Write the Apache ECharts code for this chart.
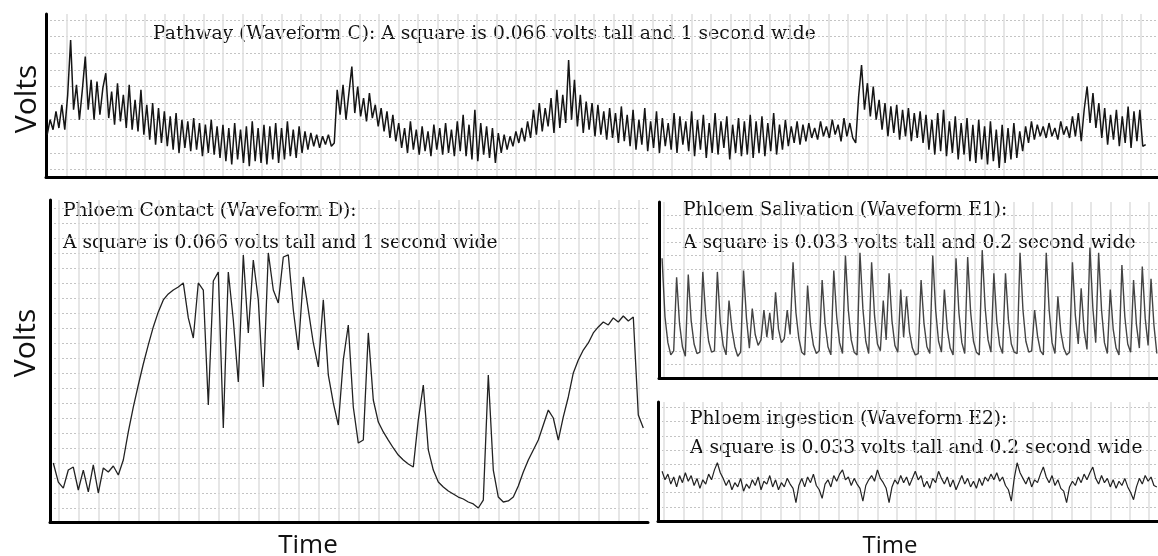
<!DOCTYPE html>
<html><head><meta charset="utf-8">
<script src="https://cdn.jsdelivr.net/npm/echarts@6/dist/echarts.min.js"></script>
<style>html,body{margin:0;padding:0;background:#fff}#c{width:1158px;height:556px}</style>
</head><body><div id="c"></div>
<script>
// ---- Pathway (Waveform C): time step in seconds, values in grid squares (0.066 V each)
const cStep = 0.15;
const waveC = [
3.1,4.0,3.4,4.5,3.5,4.9,3.4,5.5,8.8,4.6,6.1,4.0,5.8,7.8,4.6,6.4,4.0,6.3,4.3,5.9,
6.8,4.1,5.7,3.7,6.2,3.9,5.5,3.5,6.1,3.4,5.2,3.3,5.8,3.1,4.9,2.8,5.0,2.5,4.7,2.6,
4.5,2.4,4.2,2.2,4.4,2.0,4.0,2.3,3.9,2.1,4.1,2.2,3.8,1.8,3.7,2.0,4.0,1.9,3.6,1.7,
3.7,1.5,3.5,1.3,3.8,1.6,3.4,1.4,3.6,1.2,3.9,1.5,3.5,1.4,3.7,1.3,3.6,1.6,3.8,1.4,
3.5,1.6,3.9,1.8,3.4,1.7,3.6,2.0,3.3,2.2,3.2,2.4,3.1,2.3,3.0,2.5,3.1,2.4,2.6,5.8,
4.3,6.1,4.0,5.6,7.2,4.4,6.0,4.2,5.3,3.9,5.6,4.1,4.9,3.6,4.7,3.3,4.5,2.9,4.3,2.7,
3.8,2.3,3.5,2.0,3.9,2.2,3.4,1.9,3.6,2.1,3.3,1.8,3.7,2.2,3.5,1.9,3.8,2.0,3.4,1.8,
3.9,2.1,4.3,1.8,3.7,1.6,4.6,1.5,3.8,1.9,3.6,1.7,3.5,1.4,3.2,2.0,3.1,2.2,3.0,2.4,
3.3,2.6,3.5,2.7,3.9,2.9,4.6,3.1,5.0,3.3,4.7,3.6,5.3,3.2,5.8,3.5,5.5,3.8,7.6,4.0,
6.4,3.6,5.5,3.2,5.1,3.4,5.0,3.0,4.9,3.1,4.5,2.8,4.7,2.9,4.4,2.6,4.8,2.7,4.3,2.4,
4.6,2.2,4.0,2.5,4.7,2.1,3.9,2.3,4.5,2.0,4.1,2.4,3.8,2.2,4.4,2.0,4.2,2.5,3.9,2.1,
4.5,1.8,4.0,2.2,4.3,1.7,3.8,2.0,4.4,1.9,3.9,2.3,4.2,1.6,3.7,2.0,4.1,1.8,3.9,1.9,
4.3,1.7,3.9,2.0,4.2,1.8,3.8,2.1,4.4,1.9,3.7,2.2,4.0,2.4,3.6,2.6,3.9,2.5,3.7,2.7,
3.8,2.9,3.5,2.8,3.9,3.0,3.6,2.9,4.0,3.1,3.7,2.7,4.1,3.0,3.8,2.9,2.6,5.4,7.3,4.6,
6.2,4.2,6.0,4.0,5.2,3.4,5.0,3.0,4.8,3.2,4.9,2.8,4.6,3.0,4.7,2.7,4.4,2.9,4.5,2.6,
4.3,2.2,4.0,1.9,4.4,2.1,4.6,1.8,3.9,2.0,4.2,1.6,3.8,1.9,4.1,1.5,3.7,1.4,4.0,1.6,
3.6,1.3,3.9,1.5,3.4,1.1,3.7,1.4,3.5,1.6,3.8,1.7,3.3,2.1,3.6,2.6,3.9,2.8,3.7,3.0,
3.6,2.9,3.8,3.0,3.5,2.8,3.9,3.1,3.6,2.9,4.2,3.0,4.4,2.7,4.6,6.0,3.8,5.6,3.5,5.0,
2.9,4.7,2.5,4.3,2.8,4.6,2.4,4.2,2.6,4.8,2.3,4.5,2.7,4.6,2.4,2.5
];
// ---- Phloem contact (Waveform D): seconds, squares (0.066 V each)
const dStart = 0.75, dStep = 0.25;
const waveD = [
4.0,2.73,2.33,3.53,3.73,2.2,3.53,2.07,3.87,2.0,
3.67,3.4,3.8,3.2,4.2,6.07,7.73,9.2,10.6,11.87,
13.07,14.07,14.87,15.27,15.53,15.73,16.0,13.67,12.33,16.0,
15.53,7.87,16.13,16.73,6.33,16.73,13.53,9.4,17.87,12.67,
17.53,14.87,9.07,18.0,15.53,14.67,17.73,17.87,14.2,11.53,
16.4,14.2,12.0,10.4,14.87,9.87,8.0,6.53,10.87,13.2,
7.73,5.33,5.53,12.67,8.2,6.73,6.07,5.53,5.0,4.53,
4.2,3.93,3.73,6.87,9.2,4.87,3.53,2.73,2.4,2.13,
1.93,1.73,1.6,1.4,1.27,1.0,1.53,9.87,3.53,1.73,
1.4,1.47,1.73,2.47,3.4,4.2,4.87,5.53,6.53,7.53,
7.0,5.53,7.07,8.4,10.0,10.87,11.53,12.0,12.67,13.07,
13.4,13.2,13.67,13.4,13.8,13.47,13.73,7.2,6.33
];
// ---- Phloem salivation (E1) and ingestion (E2): grid squares (0.2 s, 0.033 V)
const eStart = 0.9, eStep = 0.15;
const waveE1 = [
8.8,4.5,2.6,1.7,2.0,7.4,4.0,2.3,1.6,7.6,
4.2,2.5,1.8,1.9,7.8,4.6,2.7,1.9,2.0,7.8,
4.1,2.4,1.7,5.7,3.6,2.3,1.6,1.9,7.9,4.4,
2.2,5.1,3.2,2.4,2.8,5.0,3.0,4.8,2.8,6.3,
3.6,2.6,2.9,5.0,3.2,8.5,4.8,2.9,1.9,1.7,
6.8,3.9,2.4,1.8,2.0,7.2,4.0,2.3,1.7,7.9,
4.5,2.6,1.8,9.0,5.0,2.8,1.9,1.7,9.2,5.1,
2.7,1.8,8.5,4.6,2.5,2.0,5.7,2.8,7.7,4.2,
2.4,1.9,6.5,3.0,6.0,3.4,2.2,1.7,1.8,7.2,
4.0,2.3,1.8,9.0,5.0,2.7,1.9,6.5,3.6,2.2,
1.7,8.8,4.8,2.6,1.8,8.9,4.9,2.7,1.9,1.7,
9.4,5.2,2.8,1.9,7.7,4.2,2.4,1.8,7.7,4.3,
2.5,1.9,1.8,9.2,5.0,2.7,1.9,2.0,5.0,3.1,
2.0,1.7,9.2,5.0,2.6,1.8,6.0,3.4,2.2,1.7,
1.9,8.5,4.6,2.5,6.6,3.5,2.1,9.6,5.2,2.6,
9.2,5.0,2.6,1.8,6.5,3.6,2.2,1.7,8.3,4.5,
2.5,1.9,7.2,3.9,2.2,8.2,4.4,2.4,7.3,3.9,
1.8
];
const waveE2 = [
3.5,2.9,3.3,2.6,3.1,2.4,3.2,2.7,3.4,2.8,
3.2,2.5,3.0,2.3,2.9,2.6,3.3,2.9,3.6,4.1,
3.4,3.0,2.5,2.9,2.2,2.7,2.4,3.0,2.1,2.6,
2.3,2.9,2.5,3.1,2.2,2.8,2.6,3.2,2.4,2.9,
2.2,2.7,2.4,3.0,2.6,2.3,1.3,2.5,3.0,2.4,
3.1,2.7,3.3,2.5,2.2,1.6,2.6,2.9,2.4,3.2,
2.8,3.3,3.6,2.9,3.1,2.5,3.0,2.6,2.3,1.4,
2.5,2.9,3.2,2.8,3.6,3.0,2.7,2.3,1.3,2.4,
2.9,2.6,3.2,2.7,3.1,2.5,3.0,3.5,2.9,3.2,
2.4,2.8,2.3,3.0,2.7,3.5,3.0,2.6,3.1,2.4,
2.9,2.2,2.7,3.2,2.6,3.0,2.4,2.8,2.3,3.0,
2.5,3.1,2.8,3.3,2.9,3.4,2.8,3.1,2.5,2.2,
1.4,3.0,4.1,3.4,3.0,2.6,3.1,2.4,2.9,2.7,
3.3,3.8,3.1,2.7,3.2,2.5,2.9,2.3,2.1,1.3,
2.4,2.8,2.5,3.1,2.7,3.3,2.9,3.4,3.8,3.0,
2.6,3.2,2.7,3.0,2.4,2.9,2.3,2.8,2.5,3.0,
2.4,2.0,1.5,2.4,3.0,2.6,3.2,2.8,3.1,2.5,
2.4
];
const labelC = 'Pathway (Waveform C): A square is 0.066 volts tall and 1 second wide';
const labelD = ['Phloem Contact (Waveform D):', 'A square is 0.066 volts tall and 1 second wide'];
const labelE1 = ['Phloem Salivation (Waveform E1):', 'A square is 0.033 volts tall and 0.2 second wide'];
const labelE2 = ['Phloem ingestion (Waveform E2):', 'A square is 0.033 volts tall and 0.2 second wide'];
const yName = 'Volts', xName = 'Time';

const pairs = (arr, start, step) => arr.map((v, i) => [+(start + i * step).toFixed(4), v]);

const chart = echarts.init(document.getElementById('c'), null, {renderer: 'canvas'});
const vLine = {show: true, showMinLine: false, showMaxLine: false, lineStyle: {color: '#e0e0e0', width: 1.6}};
const hLine = {show: true, showMinLine: false, showMaxLine: false, lineStyle: {color: '#c4c4c4', width: 1, type: [2, 2]}};
function xAx(gi, min, max) {
  return {type: 'value', gridIndex: gi, min, max, minInterval: 1, maxInterval: 1,
    axisLine: {show: true, onZero: false, lineStyle: {color: '#000', width: 3}},
    axisTick: {show: false}, axisLabel: {show: false}, splitLine: vLine};
}
function yAx(gi, min, max) {
  return {type: 'value', gridIndex: gi, min, max, minInterval: 1, maxInterval: 1,
    axisLine: {show: true, onZero: false, lineStyle: {color: '#000', width: 3}},
    axisTick: {show: false}, axisLabel: {show: false}, splitLine: hLine};
}
const serif = '18.7px "DejaVu Serif", serif';
const sans = '"Open Sans", sans-serif';
function txt(x, y, text, font) {
  return {type: 'text', x, y, style: {text, font, fill: '#111', align: 'left', verticalAlign: 'middle'}};
}
const option = {
  backgroundColor: '#fff',
  animation: false,
  grid: [
    {left: 46, top: 14, width: 1112, height: 163},
    {left: 50, top: 200, width: 598, height: 322},
    {left: 659, top: 202, width: 499, height: 176},
    {left: 658, top: 402, width: 500, height: 119}
  ],
  xAxis: [xAx(0, -0.061, 56.88), xAx(1, 0.585, 30.485), xAx(2, 0.742, 26.46), xAx(3, 0.69, 26.46)],
  yAxis: [yAx(0, 0.548, 10.37), yAx(1, 0.067, 21.53), yAx(2, 0, 12.94), yAx(3, 0, 8.38)],
  series: [
    {type: 'line', xAxisIndex: 0, yAxisIndex: 0, data: pairs(waveC, 0, cStep), showSymbol: false, lineStyle: {color: '#151515', width: 1.5}},
    {type: 'line', xAxisIndex: 1, yAxisIndex: 1, data: pairs(waveD, dStart, dStep), showSymbol: false, lineStyle: {color: '#222', width: 1.3}},
    {type: 'line', xAxisIndex: 2, yAxisIndex: 2, data: pairs(waveE1, eStart, eStep), showSymbol: false, lineStyle: {color: '#444', width: 1.4}},
    {type: 'line', xAxisIndex: 3, yAxisIndex: 3, data: pairs(waveE2, eStart, eStep), showSymbol: false, lineStyle: {color: '#222', width: 1.2}}
  ],
  graphic: [
    txt(153, 34, labelC, serif),
    txt(63, 211, labelD[0], serif), txt(63, 243, labelD[1], serif),
    txt(683, 210, labelE1[0], serif), txt(683, 243, labelE1[1], serif),
    txt(690, 419, labelE2[0], serif), txt(690, 448, labelE2[1], serif),
    {type: 'text', x: 27, y: 99, rotation: Math.PI / 2, style: {text: yName, font: '30px ' + sans, fill: '#111', align: 'center', verticalAlign: 'middle'}},
    {type: 'text', x: 26, y: 343, rotation: Math.PI / 2, style: {text: yName, font: '30px ' + sans, fill: '#111', align: 'center', verticalAlign: 'middle'}},
    {type: 'text', x: 308, y: 546, style: {text: xName, font: '26px ' + sans, fill: '#111', align: 'center', verticalAlign: 'middle'}},
    {type: 'text', x: 890, y: 546, style: {text: xName, font: '24px ' + sans, fill: '#111', align: 'center', verticalAlign: 'middle'}}
  ]
};
chart.setOption(option);
</script></body></html>
